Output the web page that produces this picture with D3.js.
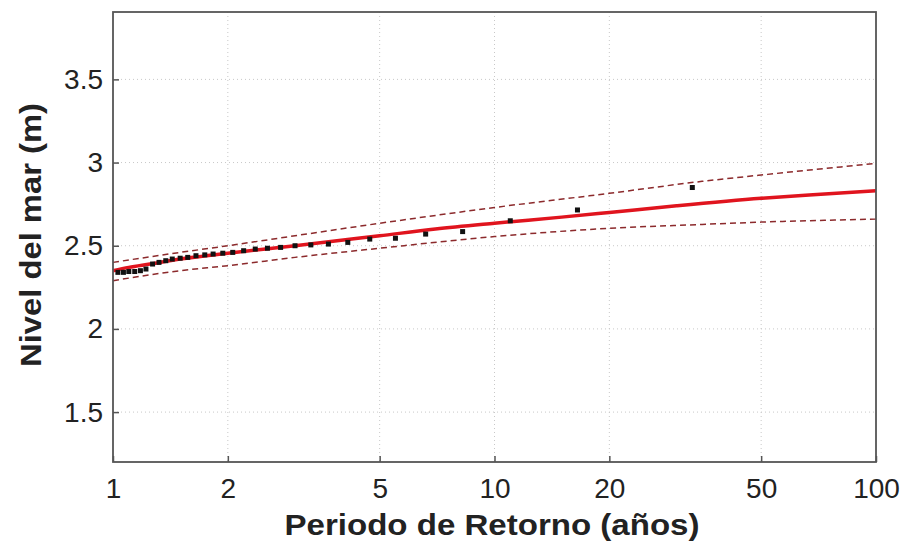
<!DOCTYPE html>
<html>
<head>
<meta charset="utf-8">
<script src="https://cdn.jsdelivr.net/npm/d3@7"></script>
<style>
  body { margin: 0; background: #fff; }
  svg { display: block; font-family: 'Liberation Sans', Arial, sans-serif; }
</style>
</head>
<body>
<div id="graph"></div>
<script>
// periodo de retorno de cada dato observado (años) y su nivel (m)
var obsT = [1.03, 1.065, 1.10, 1.14, 1.18, 1.22, 1.27, 1.32, 1.375, 1.43, 1.5, 1.57, 1.65, 1.74,
            1.83, 1.94, 2.06, 2.2, 2.36, 2.54, 2.75, 3.0, 3.3, 3.67, 4.125, 4.71, 5.5, 6.6,
            8.25, 11, 16.5, 33];
var obsLevel = [2.34, 2.34, 2.345, 2.345, 2.35, 2.36, 2.39, 2.40, 2.41, 2.42, 2.425, 2.43, 2.44, 2.445,
                2.45, 2.455, 2.46, 2.47, 2.48, 2.485, 2.49, 2.50, 2.505, 2.51, 2.52, 2.54, 2.545, 2.57,
                2.585, 2.65, 2.715, 2.85];

// ajuste
var fitT = [1.0, 1.1, 1.25, 1.5, 2, 3, 5, 7, 10, 15, 20, 30, 50, 70, 100];
var fitLevel = [2.35, 2.37, 2.39, 2.42, 2.455, 2.50, 2.56, 2.60, 2.635, 2.672, 2.70, 2.74, 2.785, 2.808, 2.83];

// bandas de confianza
var bandT = [1.0, 1.5, 2, 3, 5, 10, 20, 35, 50, 100];
var upperLevel = [2.40, 2.46, 2.50, 2.56, 2.635, 2.73, 2.815, 2.887, 2.925, 2.995];
var lowerLevel = [2.29, 2.35, 2.38, 2.43, 2.485, 2.555, 2.605, 2.628, 2.642, 2.66];

var xTicks = [1, 2, 5, 10, 20, 50, 100];
var yTicks = [1.5, 2, 2.5, 3, 3.5];

function drawChart() {
    var width = 903, height = 546;
    var pLeft = 113, pRight = 876, pTop = 12, pBottom = 462;

    var svg = d3.select('#graph')
        .append('svg')
        .attr('width', width)
        .attr('height', height);

    var x = d3.scaleLog()
        .domain([1, 100])
        .range([pLeft, pRight]);

    var y = d3.scaleLinear()
        .domain([1.2, 3.905])
        .range([pBottom, pTop]);

    // grid
    svg.append('g')
        .selectAll('line')
        .data(xTicks.slice(1, -1))
        .enter().append('line')
        .attr('x1', function(d) { return x(d); })
        .attr('x2', function(d) { return x(d); })
        .attr('y1', pTop)
        .attr('y2', pBottom)
        .style('stroke', '#c8c8c8')
        .style('stroke-width', 1)
        .style('stroke-dasharray', '1,3');

    svg.append('g')
        .selectAll('line')
        .data(yTicks)
        .enter().append('line')
        .attr('x1', pLeft)
        .attr('x2', pRight)
        .attr('y1', function(d) { return y(d); })
        .attr('y2', function(d) { return y(d); })
        .style('stroke', '#c8c8c8')
        .style('stroke-width', 1)
        .style('stroke-dasharray', '1,3');

    // axes (ticks inward)
    var xAxis = svg.append('g')
        .attr('transform', 'translate(0,' + pBottom + ')')
        .call(d3.axisBottom(x).tickValues(xTicks).tickFormat(d3.format('d')).tickSizeInner(-6).tickSizeOuter(0).tickPadding(16));

    var yAxis = svg.append('g')
        .attr('transform', 'translate(' + pLeft + ',0)')
        .call(d3.axisLeft(y).tickValues(yTicks).tickFormat(function(d) { return d; }).tickSizeInner(-6).tickSizeOuter(0).tickPadding(10));

    [xAxis, yAxis].forEach(function(a) {
        a.select('.domain').remove();
        a.selectAll('.tick line').style('stroke', '#555').style('stroke-width', 1.5);
        a.selectAll('.tick text')
            .style('font-size', '28px')
            .style('fill', '#222');
    });

    // confidence bands
    var bandLine = function(vals) {
        return d3.line()
            .x(function(d, i) { return x(bandT[i]); })
            .y(function(d) { return y(d); })
            .curve(d3.curveMonotoneX)(vals);
    };
    [upperLevel, lowerLevel].forEach(function(vals) {
        svg.append('path')
            .attr('d', bandLine(vals))
            .style('fill', 'none')
            .style('stroke', '#8c2a2c')
            .style('stroke-width', 1.5)
            .style('stroke-dasharray', '6,4');
    });

    // fit line
    svg.append('path')
        .datum(fitLevel)
        .attr('d', d3.line()
            .x(function(d, i) { return x(fitT[i]); })
            .y(function(d) { return y(d); })
            .curve(d3.curveMonotoneX))
        .style('fill', 'none')
        .style('stroke', '#e0141e')
        .style('stroke-width', 3.5);

    // observed points
    svg.append('g')
        .selectAll('rect')
        .data(obsLevel)
        .enter().append('rect')
        .attr('x', function(d, i) { return x(obsT[i]) - 2.5; })
        .attr('y', function(d) { return y(d) - 2.5; })
        .attr('width', 5)
        .attr('height', 5)
        .style('fill', '#111');

    // frame
    svg.append('rect')
        .attr('x', pLeft)
        .attr('y', pTop)
        .attr('width', pRight - pLeft)
        .attr('height', pBottom - pTop)
        .style('fill', 'none')
        .style('stroke', '#555')
        .style('stroke-width', 1.8);

    // x label
    svg.append('text')
        .attr('x', 492)
        .attr('y', 535)
        .attr('text-anchor', 'middle')
        .attr('textLength', 415)
        .attr('lengthAdjust', 'spacingAndGlyphs')
        .style('font-size', '29px')
        .style('font-weight', 'bold')
        .style('fill', '#222')
        .text('Periodo de Retorno (años)');

    // y label
    svg.append('text')
        .attr('transform', 'translate(41,235) rotate(-90)')
        .attr('text-anchor', 'middle')
        .attr('textLength', 264)
        .attr('lengthAdjust', 'spacingAndGlyphs')
        .style('font-size', '29px')
        .style('font-weight', 'bold')
        .style('fill', '#222')
        .text('Nivel del mar (m)');
}

drawChart();
</script>
</body>
</html>
